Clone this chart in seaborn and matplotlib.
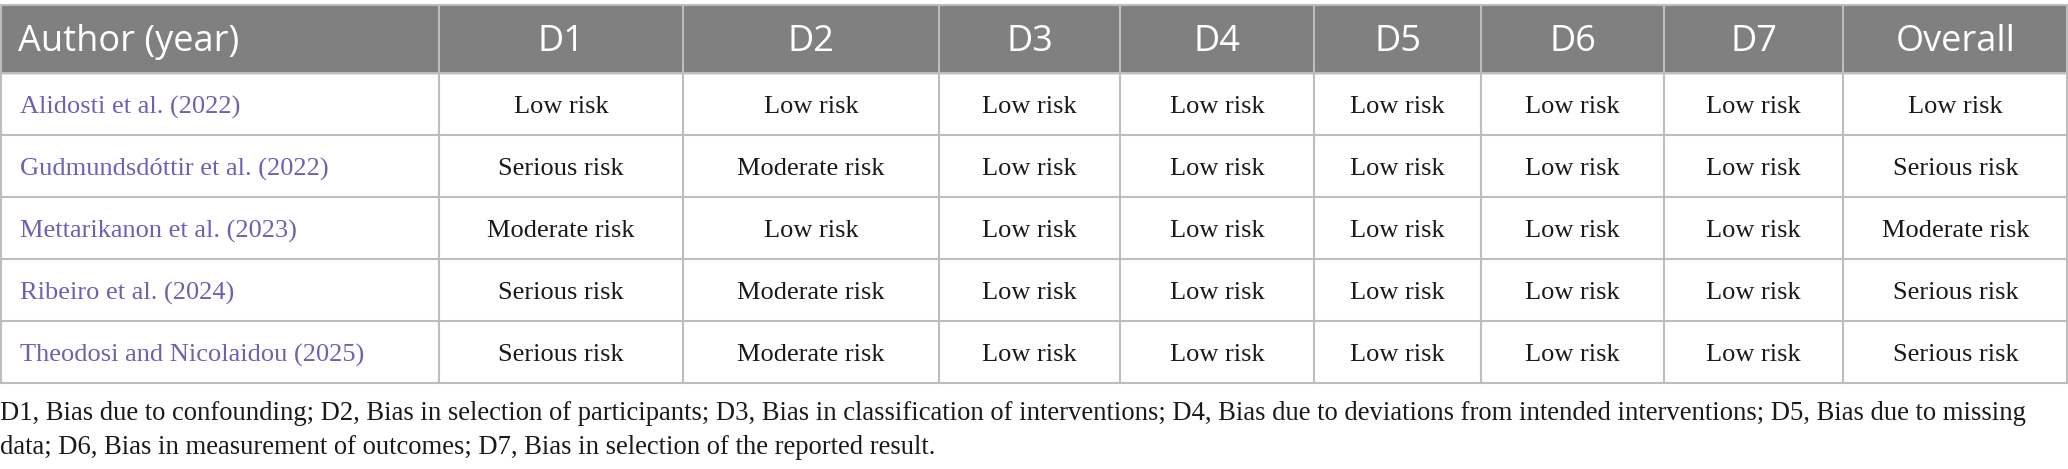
import matplotlib
matplotlib.use("Agg")
import matplotlib.pyplot as plt
import seaborn as sns

sns.set_theme(style="white")

# table content
columns = ["Author (year)", "D1", "D2", "D3", "D4", "D5", "D6", "D7", "Overall"]
authors = [
    "Alidosti et al. (2022)",
    "Gudmundsdóttir et al. (2022)",
    "Mettarikanon et al. (2023)",
    "Ribeiro et al. (2024)",
    "Theodosi and Nicolaidou (2025)",
]
d1 = ["Low risk", "Serious risk", "Moderate risk", "Serious risk", "Serious risk"]
d2 = ["Low risk", "Moderate risk", "Low risk", "Moderate risk", "Moderate risk"]
d3 = ["Low risk"] * 5
d4 = ["Low risk"] * 5
d5 = ["Low risk"] * 5
d6 = ["Low risk"] * 5
d7 = ["Low risk"] * 5
overall = ["Low risk", "Serious risk", "Moderate risk", "Serious risk", "Serious risk"]
footnote = [
    "D1, Bias due to confounding; D2, Bias in selection of participants; D3, Bias in classification of interventions; "
    "D4, Bias due to deviations from intended interventions; D5, Bias due to missing",
    "data; D6, Bias in measurement of outcomes; D7, Bias in selection of the reported result.",
]

# layout (pixels)
W, H = 2068, 469
col_edges = [0, 439, 683, 939, 1120, 1314, 1481, 1664, 1843, 2068]
top, head_bottom, row_h = 5, 73, 62
header_color = "#808080"
grid_color = "#bdbdbd"
link_color = "#6b62b5"
serif = ["Liberation Serif", "DejaVu Serif"]
sans = ["Open Sans", "DejaVu Sans"]

fig = plt.figure(figsize=(W / 100, H / 100), dpi=100)
ax = fig.add_axes([0, 0, 1, 1])
ax.set_xlim(0, W)
ax.set_ylim(H, 0)
ax.axis("off")

# header band
ax.add_patch(plt.Rectangle((0, top), W, head_bottom - top, color=header_color, zorder=0))
head_y = (top + head_bottom) / 2 + 3
for i, name in enumerate(columns):
    x0, x1 = col_edges[i], col_edges[i + 1]
    if i == 0:
        ax.text(x0 + 18, head_y, name, ha="left", va="center",
                color="white", fontsize=26, family=sans)
    else:
        ax.text((x0 + x1) / 2, head_y, name, ha="center", va="center",
                color="white", fontsize=26, family=sans)

# body rows
body_cols = [d1, d2, d3, d4, d5, d6, d7, overall]
n_rows = len(authors)
for r in range(n_rows):
    yc = head_bottom + row_h * (r + 0.5) + 3
    ax.text(20, yc, authors[r], ha="left", va="center", color=link_color,
            fontsize=19, family=serif)
    for c, vals in enumerate(body_cols):
        x0, x1 = col_edges[c + 1], col_edges[c + 2]
        ax.text((x0 + x1) / 2, yc, vals[r], ha="center", va="center", color="#1a1a1a",
                fontsize=19, family=serif)

# grid lines
bottom = head_bottom + row_h * n_rows
ax.plot([0, W], [top, top], color=grid_color, lw=1.5)
for r in range(n_rows + 1):
    y = head_bottom + row_h * r
    ax.plot([0, W], [y, y], color=grid_color, lw=1.5)
for x in col_edges[1:-1]:
    ax.plot([x, x], [top, bottom], color=grid_color, lw=1.5)
ax.plot([1, 1], [top, bottom], color=grid_color, lw=1.5)
ax.plot([W - 1, W - 1], [top, bottom], color=grid_color, lw=1.5)

# footnote
for i, line in enumerate(footnote):
    ax.text(0, 413 + 34 * i, line, ha="left", va="center", color="#1a1a1a",
            fontsize=19.2, family=serif)

fig.savefig("out.png", dpi=100)
